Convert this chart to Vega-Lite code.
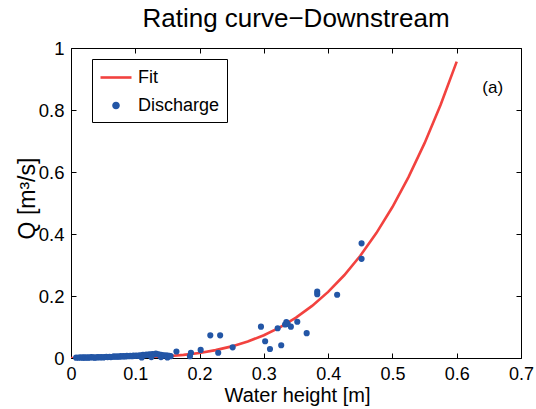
{
  "$schema": "https://vega.github.io/schema/vega-lite/v6.json",
  "autosize": "none",
  "width": 450,
  "height": 310,
  "padding": {"left": 71, "top": 48, "right": 15, "bottom": 51},
  "background": "white",
  "title": {"text": "Rating curve\u2212Downstream", "font": "Liberation Sans", "fontSize": 26, "fontWeight": "normal", "color": "black", "baseline": "alphabetic", "offset": 18, "dy": 32, "anchor": "middle", "frame": "group"},
  "config": {
    "view": {"stroke": "black", "strokeWidth": 1},
    "axis": {"grid": false, "domain": false, "tickColor": "black", "tickSize": -5, "tickWidth": 1, "labelColor": "black", "labelFont": "Liberation Sans", "labelFontSize": 18.5, "labelFlush": false, "labelOverlap": false, "titleFont": "Liberation Sans", "titleFontSize": 22, "titleFontWeight": "normal", "titleColor": "black"}
  },
  "datasets": {
    "fit": [
      {"h": 0, "Q": 0, "series": "Fit"},
      {"h": 0.025, "Q": 0.0000075, "series": "Fit"},
      {"h": 0.05, "Q": 0.0001, "series": "Fit"},
      {"h": 0.075, "Q": 0.00044, "series": "Fit"},
      {"h": 0.1, "Q": 0.00126, "series": "Fit"},
      {"h": 0.125, "Q": 0.00289, "series": "Fit"},
      {"h": 0.15, "Q": 0.00566, "series": "Fit"},
      {"h": 0.175, "Q": 0.01, "series": "Fit"},
      {"h": 0.2, "Q": 0.0164, "series": "Fit"},
      {"h": 0.225, "Q": 0.0254, "series": "Fit"},
      {"h": 0.25, "Q": 0.0375, "series": "Fit"},
      {"h": 0.275, "Q": 0.0533, "series": "Fit"},
      {"h": 0.3, "Q": 0.0736, "series": "Fit"},
      {"h": 0.325, "Q": 0.0989, "series": "Fit"},
      {"h": 0.35, "Q": 0.1302, "series": "Fit"},
      {"h": 0.375, "Q": 0.168, "series": "Fit"},
      {"h": 0.4, "Q": 0.2133, "series": "Fit"},
      {"h": 0.425, "Q": 0.2669, "series": "Fit"},
      {"h": 0.45, "Q": 0.3299, "series": "Fit"},
      {"h": 0.475, "Q": 0.403, "series": "Fit"},
      {"h": 0.5, "Q": 0.487, "series": "Fit"},
      {"h": 0.525, "Q": 0.5833, "series": "Fit"},
      {"h": 0.55, "Q": 0.693, "series": "Fit"},
      {"h": 0.575, "Q": 0.8167, "series": "Fit"},
      {"h": 0.6, "Q": 0.956, "series": "Fit"}
    ],
    "obs": [
      {"h": 0.008, "Q": 0.001, "series": "Discharge"},
      {"h": 0.012, "Q": 0.001, "series": "Discharge"},
      {"h": 0.015, "Q": 0.002, "series": "Discharge"},
      {"h": 0.018, "Q": 0.001, "series": "Discharge"},
      {"h": 0.02, "Q": 0.002, "series": "Discharge"},
      {"h": 0.022, "Q": 0.001, "series": "Discharge"},
      {"h": 0.025, "Q": 0.002, "series": "Discharge"},
      {"h": 0.027, "Q": 0.001, "series": "Discharge"},
      {"h": 0.03, "Q": 0.002, "series": "Discharge"},
      {"h": 0.032, "Q": 0.003, "series": "Discharge"},
      {"h": 0.035, "Q": 0.002, "series": "Discharge"},
      {"h": 0.037, "Q": 0.001, "series": "Discharge"},
      {"h": 0.04, "Q": 0.002, "series": "Discharge"},
      {"h": 0.042, "Q": 0.003, "series": "Discharge"},
      {"h": 0.045, "Q": 0.002, "series": "Discharge"},
      {"h": 0.047, "Q": 0.003, "series": "Discharge"},
      {"h": 0.05, "Q": 0.002, "series": "Discharge"},
      {"h": 0.052, "Q": 0.003, "series": "Discharge"},
      {"h": 0.055, "Q": 0.004, "series": "Discharge"},
      {"h": 0.057, "Q": 0.003, "series": "Discharge"},
      {"h": 0.06, "Q": 0.004, "series": "Discharge"},
      {"h": 0.062, "Q": 0.003, "series": "Discharge"},
      {"h": 0.065, "Q": 0.004, "series": "Discharge"},
      {"h": 0.067, "Q": 0.005, "series": "Discharge"},
      {"h": 0.07, "Q": 0.004, "series": "Discharge"},
      {"h": 0.072, "Q": 0.005, "series": "Discharge"},
      {"h": 0.075, "Q": 0.004, "series": "Discharge"},
      {"h": 0.077, "Q": 0.006, "series": "Discharge"},
      {"h": 0.08, "Q": 0.005, "series": "Discharge"},
      {"h": 0.082, "Q": 0.006, "series": "Discharge"},
      {"h": 0.085, "Q": 0.005, "series": "Discharge"},
      {"h": 0.087, "Q": 0.007, "series": "Discharge"},
      {"h": 0.09, "Q": 0.006, "series": "Discharge"},
      {"h": 0.092, "Q": 0.007, "series": "Discharge"},
      {"h": 0.095, "Q": 0.006, "series": "Discharge"},
      {"h": 0.097, "Q": 0.008, "series": "Discharge"},
      {"h": 0.1, "Q": 0.007, "series": "Discharge"},
      {"h": 0.102, "Q": 0.008, "series": "Discharge"},
      {"h": 0.105, "Q": 0.007, "series": "Discharge"},
      {"h": 0.107, "Q": 0.009, "series": "Discharge"},
      {"h": 0.11, "Q": 0.008, "series": "Discharge"},
      {"h": 0.11, "Q": 0.002, "series": "Discharge"},
      {"h": 0.112, "Q": 0.01, "series": "Discharge"},
      {"h": 0.115, "Q": 0.009, "series": "Discharge"},
      {"h": 0.117, "Q": 0.011, "series": "Discharge"},
      {"h": 0.12, "Q": 0.01, "series": "Discharge"},
      {"h": 0.122, "Q": 0.012, "series": "Discharge"},
      {"h": 0.125, "Q": 0.011, "series": "Discharge"},
      {"h": 0.125, "Q": 0.003, "series": "Discharge"},
      {"h": 0.127, "Q": 0.013, "series": "Discharge"},
      {"h": 0.13, "Q": 0.012, "series": "Discharge"},
      {"h": 0.132, "Q": 0.014, "series": "Discharge"},
      {"h": 0.135, "Q": 0.012, "series": "Discharge"},
      {"h": 0.137, "Q": 0.011, "series": "Discharge"},
      {"h": 0.14, "Q": 0.01, "series": "Discharge"},
      {"h": 0.14, "Q": 0.003, "series": "Discharge"},
      {"h": 0.142, "Q": 0.009, "series": "Discharge"},
      {"h": 0.145, "Q": 0.009, "series": "Discharge"},
      {"h": 0.148, "Q": 0.008, "series": "Discharge"},
      {"h": 0.15, "Q": 0.008, "series": "Discharge"},
      {"h": 0.15, "Q": 0.002, "series": "Discharge"},
      {"h": 0.153, "Q": 0.007, "series": "Discharge"},
      {"h": 0.155, "Q": 0.006, "series": "Discharge"},
      {"h": 0.164, "Q": 0.021, "series": "Discharge"},
      {"h": 0.1866, "Q": 0.017, "series": "Discharge"},
      {"h": 0.185, "Q": 0.006, "series": "Discharge"},
      {"h": 0.2017, "Q": 0.026, "series": "Discharge"},
      {"h": 0.2167, "Q": 0.073, "series": "Discharge"},
      {"h": 0.232, "Q": 0.073, "series": "Discharge"},
      {"h": 0.229, "Q": 0.017, "series": "Discharge"},
      {"h": 0.2515, "Q": 0.0345, "series": "Discharge"},
      {"h": 0.2955, "Q": 0.101, "series": "Discharge"},
      {"h": 0.302, "Q": 0.054, "series": "Discharge"},
      {"h": 0.3095, "Q": 0.029, "series": "Discharge"},
      {"h": 0.327, "Q": 0.041, "series": "Discharge"},
      {"h": 0.3215, "Q": 0.096, "series": "Discharge"},
      {"h": 0.333, "Q": 0.108, "series": "Discharge"},
      {"h": 0.335, "Q": 0.116, "series": "Discharge"},
      {"h": 0.337, "Q": 0.11, "series": "Discharge"},
      {"h": 0.342, "Q": 0.101, "series": "Discharge"},
      {"h": 0.352, "Q": 0.117, "series": "Discharge"},
      {"h": 0.3666, "Q": 0.08, "series": "Discharge"},
      {"h": 0.383, "Q": 0.214, "series": "Discharge"},
      {"h": 0.383, "Q": 0.206, "series": "Discharge"},
      {"h": 0.414, "Q": 0.204, "series": "Discharge"},
      {"h": 0.452, "Q": 0.37, "series": "Discharge"},
      {"h": 0.452, "Q": 0.32, "series": "Discharge"}
    ],
    "note": [{"h": 0.656, "Q": 0.871, "label": "(a)"}]
  },
  "resolve": {"axis": {"x": "independent", "y": "independent"}},
  "layer": [
    {
      "data": {"name": "fit"},
      "mark": {"type": "line", "strokeWidth": 2.6, "clip": true},
      "encoding": {
        "x": {"field": "h", "type": "quantitative", "scale": {"domain": [0, 0.7], "nice": false, "zero": false},
              "axis": {"orient": "bottom", "values": [0, 0.1, 0.2, 0.3, 0.4, 0.5, 0.6, 0.7], "format": "~g", "labelFontSize": 18, "labelPadding": 12, "title": "Water height [m]", "titleFontSize": 20, "titleBaseline": "alphabetic", "titleY": 43, "titleX": 226}},
        "y": {"field": "Q", "type": "quantitative", "scale": {"domain": [0, 1], "nice": false, "zero": false},
              "axis": {"orient": "left", "values": [0, 0.2, 0.4, 0.6, 0.8, 1], "format": "~g", "labelPadding": 12, "title": "Q [m\u00b3/s]", "titleFontSize": 23, "titleBaseline": "alphabetic", "titleX": -37, "titleY": 150, "titleAngle": -90}},
        "color": {"field": "series", "type": "nominal",
                  "scale": {"domain": ["Fit", "Discharge"], "range": ["#f2423f", "#2356a6"]},
                  "legend": {
                    "orient": "none", "legendX": 21, "legendY": 11, "title": null,
                    "strokeColor": "black", "fillColor": "white", "padding": 7,
                    "symbolSize": 400, "symbolOffset": 5.5, "labelOffset": 10.5, "rowPadding": 7,
                    "labelFontSize": 18, "labelFont": "Liberation Sans", "labelColor": "black",
                    "labelExpr": "datum.label + '   '",
                    "encode": {"symbols": {"update": {
                      "shape": {"signal": "datum.value === 'Fit' ? 'M-1.55,0L1.55,0' : 'M-0.25,0A0.25,0.25,0,1,0,0.25,0A0.25,0.25,0,1,0,-0.25,0Z'"},
                      "fill": {"signal": "datum.value === 'Fit' ? 'transparent' : '#2356a6'"},
                      "stroke": {"signal": "datum.value === 'Fit' ? '#f2423f' : 'transparent'"},
                      "strokeWidth": {"value": 2.6},
                      "opacity": {"value": 1},
                      "fillOpacity": {"value": 1},
                      "strokeOpacity": {"value": 1}
                    }}}
                  }}
      }
    },
    {
      "data": {"name": "obs"},
      "mark": {"type": "point", "filled": true, "size": 38, "opacity": 1},
      "encoding": {
        "x": {"field": "h", "type": "quantitative", "axis": {"orient": "top", "values": [0, 0.1, 0.2, 0.3, 0.4, 0.5, 0.6, 0.7], "labels": false, "title": null}},
        "y": {"field": "Q", "type": "quantitative", "axis": {"orient": "right", "values": [0, 0.2, 0.4, 0.6, 0.8, 1], "labels": false, "title": null}},
        "color": {"field": "series", "type": "nominal"}
      }
    },
    {
      "data": {"name": "note"},
      "mark": {"type": "text", "font": "Liberation Sans", "fontSize": 17, "color": "black", "align": "center", "baseline": "middle"},
      "encoding": {
        "x": {"field": "h", "type": "quantitative", "axis": null},
        "y": {"field": "Q", "type": "quantitative", "axis": null},
        "text": {"field": "label"}
      }
    }
  ]
}
